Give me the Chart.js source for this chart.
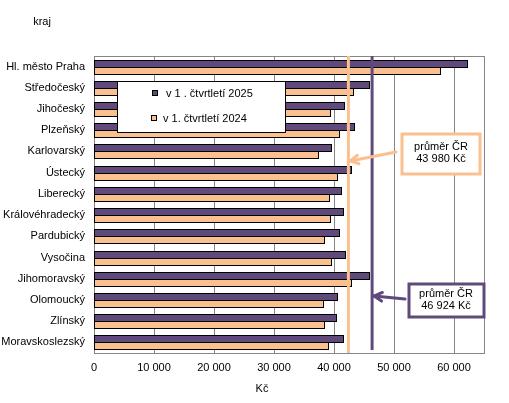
<!DOCTYPE html>
<html>
<head>
<meta charset="utf-8">
<script src="https://cdn.jsdelivr.net/npm/chart.js@4.4.1/dist/chart.umd.min.js"></script>
<style>
html,body{margin:0;padding:0;background:#fff;}
#wrap{width:509px;height:403px;}
</style>
</head>
<body>
<div id="wrap"><canvas id="c" width="509" height="403"></canvas></div>
<script>
const categories = ["Hl. město Praha","Středočeský","Jihočeský","Plzeňský","Karlovarský","Ústecký","Liberecký","Královéhradecký","Pardubický","Vysočina","Jihomoravský","Olomoucký","Zlínský","Moravskoslezský"];
const values2025 = [62400, 45950, 41800, 43450, 39650, 42950, 41300, 41650, 40950, 41950, 45950, 40650, 40450, 41650];
const values2024 = [57900, 43250, 39450, 40950, 37500, 40650, 39300, 39450, 38450, 39650, 42950, 38300, 38450, 39150];
const seriesNames = ["v 1 . čtvrtletí 2025", "v 1. čtvrtletí 2024"];
const avgLineValues = [42400, 46350];           // [2024 line, 2025 line] as drawn
const avgLabels = [["průměr ČR","43 980 Kč"], ["průměr ČR","46 924 Kč"]];
const xTicks = [0, 10000, 20000, 30000, 40000, 50000, 60000];
const xMax = 65000;

const PURPLE = '#5f4a7b';
const ORANGE = '#fac08f';
const FONT = '"Liberation Sans", Arial, sans-serif';

function fmt(v){ return String(v).replace(/\B(?=(\d{3})+(?!\d))/g, ' '); }

function arrow(ctx, x1, y1, x2, y2, color){
  ctx.save();
  ctx.strokeStyle = color; ctx.lineWidth = 3; ctx.lineCap = 'round';
  ctx.beginPath(); ctx.moveTo(x1,y1); ctx.lineTo(x2,y2); ctx.stroke();
  const ang = Math.atan2(y2-y1, x2-x1), L = 9, w = 0.5;
  ctx.beginPath();
  ctx.moveTo(x2 - L*Math.cos(ang-w), y2 - L*Math.sin(ang-w));
  ctx.lineTo(x2, y2);
  ctx.lineTo(x2 - L*Math.cos(ang+w), y2 - L*Math.sin(ang+w));
  ctx.stroke();
  ctx.restore();
}

// snap bars to whole pixels so the 1px black borders stay crisp
const snap = {
  id: 'snap',
  beforeDatasetsDraw(chart){
    const yS = chart.scales.y, xS = chart.scales.x;
    chart.data.datasets.forEach((ds, di) => {
      chart.getDatasetMeta(di).data.forEach((el, i) => {
        const T = Math.round(yS.getPixelForValue(i) - 7);
        el.height = 8;
        el.y = T + 4 + di * 7;
        el.base = Math.round(xS.getPixelForValue(0));
        el.x = Math.round(xS.getPixelForValue(ds.data[i]));
      });
    });
  }
};

const overlay = {
  id: 'overlay',
  afterDatasetsDraw(chart){
    const {ctx, chartArea:a, scales:{x}} = chart;
    ctx.save();
    ctx.strokeStyle = '#868686'; ctx.lineWidth = 1;
    ctx.beginPath();
    ctx.moveTo(a.left, Math.round(a.top)+0.5);
    ctx.lineTo(Math.round(a.right)+0.5, Math.round(a.top)+0.5);
    ctx.lineTo(Math.round(a.right)+0.5, a.bottom);
    ctx.stroke();

    // legend box
    ctx.fillStyle = '#fff'; ctx.fillRect(117, 81, 168, 51);
    ctx.strokeStyle = '#000'; ctx.lineWidth = 1;
    ctx.strokeRect(117.5, 81.5, 168, 51);
    ctx.fillStyle = PURPLE; ctx.fillRect(152.5, 90.5, 5, 5); ctx.strokeRect(152.5, 90.5, 5, 5);
    ctx.fillStyle = ORANGE; ctx.fillRect(151.5, 115.5, 5, 5); ctx.strokeRect(151.5, 115.5, 5, 5);
    ctx.fillStyle = '#000'; ctx.font = '11px ' + FONT; ctx.textBaseline = 'middle'; ctx.textAlign = 'left';
    ctx.fillText(seriesNames[0], 166, 93.5);
    ctx.fillText(seriesNames[1], 163, 118.5);

    // average lines
    const xo = x.getPixelForValue(avgLineValues[0]);
    const xp = x.getPixelForValue(avgLineValues[1]);
    ctx.lineWidth = 3;
    ctx.strokeStyle = ORANGE;
    ctx.beginPath(); ctx.moveTo(xo, a.top); ctx.lineTo(xo, a.bottom); ctx.stroke();
    ctx.strokeStyle = PURPLE;
    ctx.beginPath(); ctx.moveTo(xp, a.top); ctx.lineTo(xp, a.bottom - 3); ctx.stroke();

    // annotation boxes
    ctx.lineWidth = 3;
    ctx.fillStyle = '#fff';
    ctx.fillRect(402, 134, 78, 40);
    ctx.strokeStyle = ORANGE; ctx.strokeRect(402, 134, 78, 40);
    ctx.fillRect(409, 284, 75, 33);
    ctx.strokeStyle = PURPLE; ctx.strokeRect(409, 284, 75, 33);
    ctx.fillStyle = '#000'; ctx.textAlign = 'center';
    ctx.fillText(avgLabels[0][0], 441, 147);
    ctx.fillText(avgLabels[0][1], 441, 159);
    ctx.fillText(avgLabels[1][0], 446, 294);
    ctx.fillText(avgLabels[1][1], 446, 306);

    arrow(ctx, 396, 152, xo + 2, 161, ORANGE);
    arrow(ctx, 405, 299, xp + 2, 296, PURPLE);

    ctx.textAlign = 'center';
    ctx.fillText('kraj', 42, 22);
    ctx.fillText('Kč', 262, 389);
    ctx.restore();
  }
};

new Chart(document.getElementById('c'), {
  type: 'bar',
  data: {
    labels: categories,
    datasets: [
      { label: seriesNames[0], data: values2025, backgroundColor: PURPLE, borderColor: '#000', borderWidth: 1, borderSkipped: false },
      { label: seriesNames[1], data: values2024, backgroundColor: ORANGE, borderColor: '#000', borderWidth: 1, borderSkipped: false }
    ]
  },
  options: {
    indexAxis: 'y',
    responsive: false,
    animation: false,
    devicePixelRatio: 1,
    layout: { padding: { top: 56, right: 25, bottom: 0, left: 0 } },
    datasets: { bar: { categoryPercentage: 0.66, barPercentage: 1.0 } },
    plugins: { legend: { display: false }, tooltip: { enabled: false } },
    scales: {
      x: {
        min: 0, max: xMax,
        afterBuildTicks(s){ s.ticks = xTicks.concat([xMax]).map(v => ({value: v})); },
        afterFit(s){ s.height = 50; },
        grid: { color: '#868686', drawTicks: false },
        border: { color: '#868686', width: 1 },
        ticks: {
          padding: 8, color: '#000', font: { family: FONT, size: 11 },
          callback: v => v === xMax ? '' : fmt(v)
        }
      },
      y: {
        afterFit(s){ s.width = 94; },
        grid: { display: false, drawTicks: false },
        border: { color: '#808080', width: 1 },
        ticks: { padding: 9, color: '#000', font: { family: FONT, size: 11 } }
      }
    }
  },
  plugins: [snap, overlay]
});
</script>
</body>
</html>
